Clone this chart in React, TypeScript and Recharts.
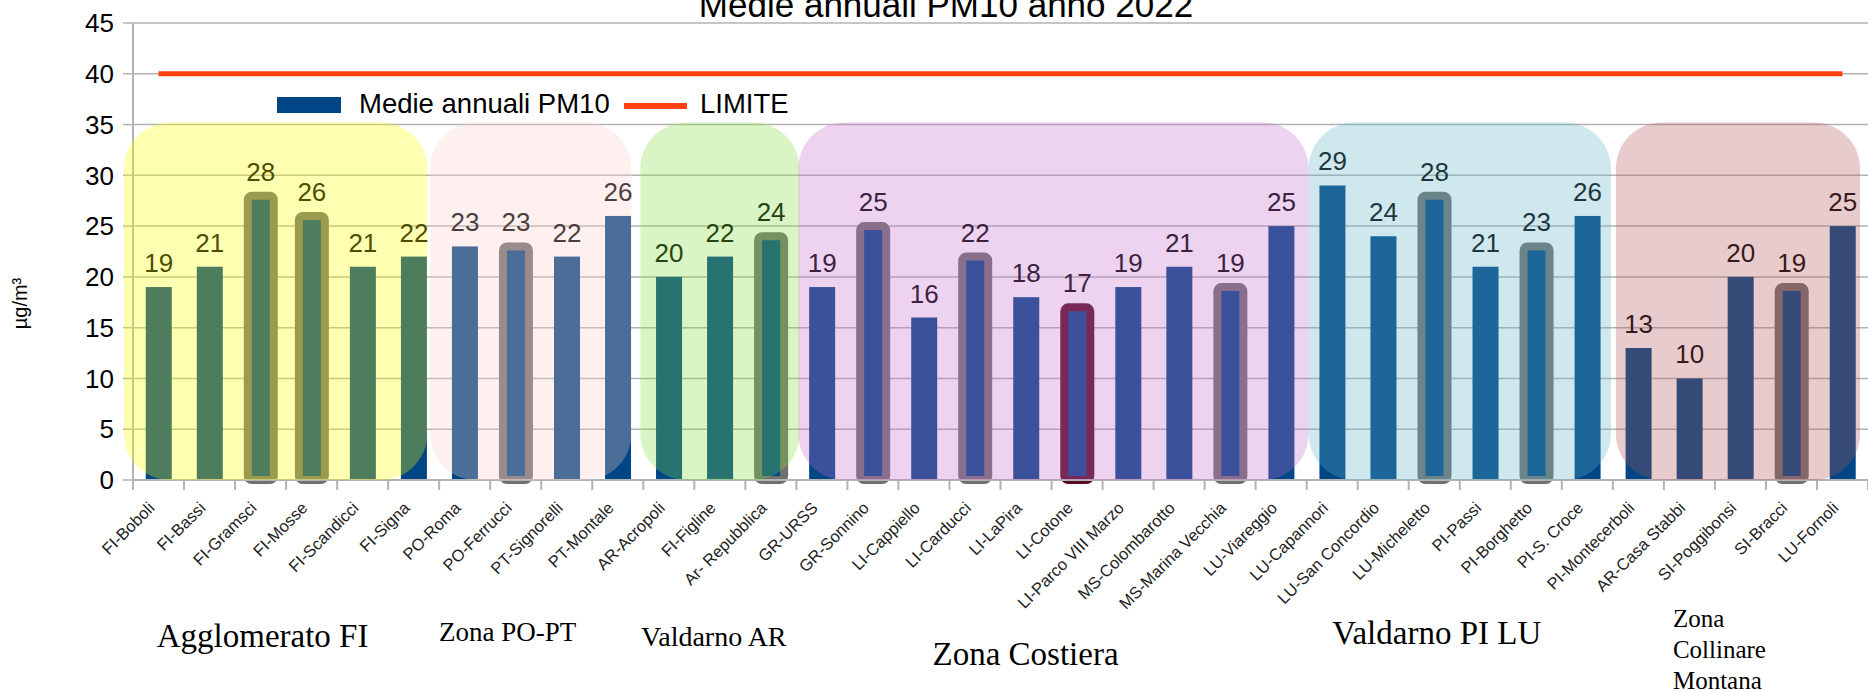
import React from 'react';
import {
  ComposedChart,
  Bar,
  Line,
  XAxis,
  YAxis,
  CartesianGrid,
  ReferenceArea,
  LabelList,
  Label,
} from 'recharts';

// stazioni di misura, nell'ordine del grafico
const STAZIONI = [
  'FI-Boboli', 'FI-Bassi', 'FI-Gramsci', 'FI-Mosse', 'FI-Scandicci', 'FI-Signa',
  'PO-Roma', 'PO-Ferrucci', 'PT-Signorelli', 'PT-Montale',
  'AR-Acropoli', 'FI-Figline', 'Ar- Repubblica',
  'GR-URSS', 'GR-Sonnino', 'LI-Cappiello', 'LI-Carducci', 'LI-LaPira', 'LI-Cotone',
  'LI-Parco VIII Marzo', 'MS-Colombarotto', 'MS-Marina Vecchia', 'LU-Viareggio',
  'LU-Capannori', 'LU-San Concordio', 'LU-Micheletto', 'PI-Passi', 'PI-Borghetto', 'PI-S. Croce',
  'PI-Montecerboli', 'AR-Casa Stabbi', 'SI-Poggibonsi', 'SI-Bracci', 'LU-Fornoli',
];

const MEDIE_PM10 = [
  19, 21, 28, 26, 21, 22,
  23, 23, 22, 26,
  20, 22, 24,
  19, 25, 16, 22, 18, 17, 19, 21, 19, 25,
  29, 24, 28, 21, 23, 26,
  13, 10, 20, 19, 25,
];

const LIMITE = [
  40, 40, 40, 40, 40, 40, 40, 40, 40, 40, 40, 40, 40, 40, 40, 40, 40,
  40, 40, 40, 40, 40, 40, 40, 40, 40, 40, 40, 40, 40, 40, 40, 40, 40,
];

const Y_TICKS = [0, 5, 10, 15, 20, 25, 30, 35, 40, 45];

// stazioni con il riquadro grigio / rosso scuro
const EVIDENZIATE = [
  'FI-Gramsci', 'FI-Mosse', 'PO-Ferrucci', 'Ar- Repubblica', 'GR-Sonnino',
  'LI-Carducci', 'MS-Marina Vecchia', 'LU-Micheletto', 'PI-Borghetto', 'SI-Bracci',
];
const SUPERAMENTO = ['LI-Cotone'];

// zone
const ZONE_RIGHE = [
  ['Agglomerato FI'],
  ['Zona PO-PT'],
  ['Valdarno AR'],
  ['Zona Costiera'],
  ['Valdarno PI LU'],
  ['Zona', 'Collinare', 'Montana'],
];
const ZONE_DA = ['FI-Boboli', 'PO-Roma', 'AR-Acropoli', 'GR-URSS', 'LU-Capannori', 'PI-Montecerboli'];
const ZONE_A = ['FI-Signa', 'PT-Montale', 'Ar- Repubblica', 'LU-Viareggio', 'PI-S. Croce', 'LU-Fornoli'];
const ZONE_ALTEZZA = 35.2;

// aspetto delle zone (colore, rientri, etichetta)
const ZONE_STILE = [
  { colore: '#ffff00', sx: -9, dx: -12, font: 33, lx: -13, ly: 167, anchor: 'middle' },
  { colore: '#f8cdc6', sx: -9, dx: -12, font: 27, lx: -23, ly: 161, anchor: 'middle' },
  { colore: '#80de3e', sx: -3, dx: 3, font: 28, lx: -6, ly: 166, anchor: 'middle' },
  { colore: '#c56dcc', sx: 2, dx: 2, font: 33, lx: -28, ly: 185, anchor: 'middle' },
  { colore: '#5fb2c6', sx: 2, dx: -2, font: 33, lx: -23, ly: 164, anchor: 'middle' },
  { colore: '#b25558', sx: 3, dx: -8, font: 25, lx: -65, ly: 147, anchor: 'start' },
];

const BLU = '#004586';
const ARANCIO = '#ff420e';
const GRIGIO = '#b3b3b3';

const data = STAZIONI.map((nome, i) => ({ nome, pm10: MEDIE_PM10[i], limite: LIMITE[i] }));

const BarraStazione = (props: any) => {
  const { x, y, width, height, index } = props;
  const nome = STAZIONI[index];
  const bordo = SUPERAMENTO.includes(nome) ? '#5a0c24' : EVIDENZIATE.includes(nome) ? '#707070' : null;
  return (
    <g>
      <rect x={x} y={y} width={width} height={height} fill={BLU} />
      {bordo && (
        <rect x={x} y={y} width={width} height={height} rx={4} fill="none" stroke={bordo} strokeWidth={8} />
      )}
    </g>
  );
};

const TickStazione = (props: any) => {
  const { x, y, payload, index } = props;
  const half = payload?.offset ?? 25.5;
  const tx = x - 3;
  const ty = y + 19;
  return (
    <g>
      <line x1={x - half} x2={x - half} y1={y - 10} y2={y} stroke={GRIGIO} strokeWidth={2} />
      {index === STAZIONI.length - 1 && (
        <line x1={x + half} x2={x + half} y1={y - 10} y2={y} stroke={GRIGIO} strokeWidth={2} />
      )}
      <text
        x={tx}
        y={ty}
        transform={`rotate(-45, ${tx}, ${ty})`}
        textAnchor="end"
        fontSize={16.5}
        fill="#222"
      >
        {payload.value}
      </text>
    </g>
  );
};

const zonaShape = (zi: number) => (props: any) => {
  const { x, y, width, height } = props;
  const st = ZONE_STILE[zi];
  const x0 = x + st.sx;
  const w = width - st.sx + st.dx;
  const cx = x0 + w / 2 + st.lx;
  const base = y + height + st.ly;
  return (
    <g>
      <rect x={x0} y={y} width={w} height={height} rx={46} ry={46} fill={st.colore} fillOpacity={0.3} />
      <text
        x={cx}
        y={base}
        textAnchor={st.anchor}
        fontSize={st.font}
        fontFamily="'Liberation Serif', 'Times New Roman', serif"
        fill="#000"
      >
        {ZONE_RIGHE[zi].map((r, k) => (
          <tspan key={k} x={cx} dy={k === 0 ? 0 : 31}>
            {r}
          </tspan>
        ))}
      </text>
    </g>
  );
};

const EtichettaY = (p: any) => {
  const vb = p.viewBox || { x: 0, y: 23, width: 133, height: 457 };
  const cx = vb.x + 20;
  const cy = vb.y + vb.height / 2 + 52;
  return (
    <text x={cx} y={cy} transform={`rotate(-90, ${cx}, ${cy})`} textAnchor="middle" dominantBaseline="central" fontSize={20} fill="#000">
      µg/m³
    </text>
  );
};

export default function App() {
  return (
    <div
      style={{
        position: 'absolute',
        left: 0,
        top: 0,
        width: 1868,
        height: 692,
        background: '#fff',
        overflow: 'hidden',
        fontFamily: "'Liberation Sans', Arial, sans-serif",
      }}
    >
      <ComposedChart
        width={1868}
        height={692}
        data={data}
        margin={{ top: 23, right: 0, bottom: 0, left: 0 }}
        barCategoryGap="25%"
        style={{ fontFamily: "'Liberation Sans', Arial, sans-serif" }}
      >
        <CartesianGrid vertical={false} stroke={GRIGIO} strokeWidth={1.5} />
        <XAxis
          dataKey="nome"
          interval={0}
          height={212}
          tickLine={false}
          tickSize={10}
          tickMargin={0}
          axisLine={{ stroke: GRIGIO, strokeWidth: 2 }}
          tick={<TickStazione />}
        />
        <YAxis
          width={133}
          domain={[0, 45]}
          ticks={Y_TICKS}
          interval={0}
          tickSize={10}
          tickMargin={9}
          tickLine={{ stroke: GRIGIO, strokeWidth: 1.5 }}
          axisLine={{ stroke: GRIGIO, strokeWidth: 2 }}
          tick={{ fill: '#000', fontSize: 26 }}
        >
          <Label content={<EtichettaY />} />
        </YAxis>
        <Bar dataKey="pm10" shape={<BarraStazione />} isAnimationActive={false} legendType="none">
          <LabelList dataKey="pm10" position="top" offset={15} fontSize={26} fill="#000" />
        </Bar>
        {ZONE_RIGHE.map((_, zi) => (
          <ReferenceArea
            key={zi}
            x1={ZONE_DA[zi]}
            x2={ZONE_A[zi]}
            y1={0}
            y2={ZONE_ALTEZZA}
            shape={zonaShape(zi)}
            zIndex={2100}
          />
        ))}
        <Line
          dataKey="limite"
          stroke={ARANCIO}
          strokeWidth={5}
          dot={false}
          activeDot={false}
          isAnimationActive={false}
          legendType="none"
        />
      </ComposedChart>
      <svg
        width={1868}
        height={692}
        style={{ position: 'absolute', left: 0, top: 0, pointerEvents: 'none' }}
        fontFamily="'Liberation Sans', Arial, sans-serif"
      >
        <text x={946} y={17} textAnchor="middle" fontSize={35} fill="#000">
          Medie annuali PM10 anno 2022
        </text>
        <rect x={277} y={97} width={64} height={16} fill={BLU} />
        <text x={359} y={113} fontSize={27.5} fill="#000">
          Medie annuali PM10
        </text>
        <line x1={624} x2={687} y1={106} y2={106} stroke={ARANCIO} strokeWidth={6} />
        <text x={700} y={113} fontSize={27.5} fill="#000">
          LIMITE
        </text>
      </svg>
    </div>
  );
}
